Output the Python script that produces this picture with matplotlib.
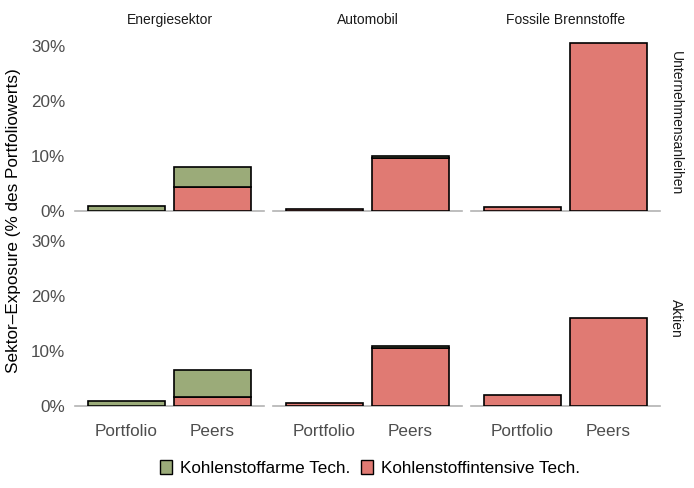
import matplotlib
matplotlib.use("Agg")
import matplotlib.pyplot as plt
from matplotlib.patches import Patch
from matplotlib.ticker import FuncFormatter

plt.rcParams['font.family'] = ['Liberation Sans', 'DejaVu Sans']

sectors = ["Energiesektor", "Automobil", "Fossile Brennstoffe"]
asset_types = ["Unternehmensanleihen", "Aktien"]
groups = ["Portfolio", "Peers"]
tech_labels = ["Kohlenstoffarme Tech.", "Kohlenstoffintensive Tech."]

# values in % of portfolio value, [sector][Portfolio, Peers]
high_carbon_bonds = [[0.0, 4.4], [0.3, 9.7], [0.7, 30.5]]
low_carbon_bonds = [[0.9, 3.6], [0.0, 0.3], [0.0, 0.0]]
high_carbon_equity = [[0.0, 1.7], [0.5, 10.5], [2.0, 16.0]]
low_carbon_equity = [[0.9, 4.8], [0.0, 0.4], [0.0, 0.0]]

high_carbon = [high_carbon_bonds, high_carbon_equity]
low_carbon = [low_carbon_bonds, low_carbon_equity]

green = "#9BAB79"
red = "#E07A73"

W, H = 694, 488
fig = plt.figure(figsize=(W / 100, H / 100), dpi=100)

panel_left = [75, 273, 471]
panel_w = 189
panel_top = [35, 230]
panel_h = 176

pct = FuncFormatter(lambda v, _: f"{v:.0f}%")

for r, asset in enumerate(asset_types):
    for c, sector in enumerate(sectors):
        ax = fig.add_axes([panel_left[c] / W, 1 - (panel_top[r] + panel_h) / H,
                           panel_w / W, panel_h / H])
        x = [1, 2]
        red_vals = high_carbon[r][c]
        green_vals = low_carbon[r][c]
        for i in range(2):
            if red_vals[i] > 0:
                ax.bar(x[i], red_vals[i], width=0.9, color=red,
                       edgecolor="black", linewidth=1.2, zorder=3)
            if green_vals[i] > 0:
                ax.bar(x[i], green_vals[i], bottom=red_vals[i], width=0.9,
                       color=green, edgecolor="black", linewidth=1.2, zorder=3)
        ax.set_xlim(0.4, 2.6)
        ax.set_ylim(0, 32)
        ax.set_yticks([0, 10, 20, 30])
        ax.yaxis.set_major_formatter(pct)
        ax.set_xticks(x)
        for s in ["top", "right", "left"]:
            ax.spines[s].set_visible(False)
        ax.spines["bottom"].set_color("#B3B3B3")
        ax.spines["bottom"].set_linewidth(1.2)
        ax.spines["bottom"].set_zorder(2)
        ax.tick_params(length=0, labelsize=12.3, labelcolor="#4D4D4D")
        ax.tick_params(axis="y", pad=7)
        ax.tick_params(axis="x", pad=13)
        if r == 1:
            ax.set_xticklabels(groups)
        else:
            ax.set_xticklabels([])
        if c != 0:
            ax.set_yticklabels([])
        if r == 0:
            ax.set_title(sector, fontsize=10, color="#1A1A1A", pad=8)
        if c == 2:
            ax.text(1.085, 0.5, asset, transform=ax.transAxes, rotation=-90,
                    ha="center", va="center", fontsize=10, color="#1A1A1A")

fig.text(14 / W, 1 - 221 / H, "Sektor–Exposure (% des Portfoliowerts)",
         rotation=90, ha="center", va="center", fontsize=12.3)

handles = [Patch(facecolor=green, edgecolor="black", linewidth=1.0),
           Patch(facecolor=red, edgecolor="black", linewidth=1.0)]
fig.legend(handles, tech_labels, loc="center", bbox_to_anchor=(370 / W, 1 - 468 / H),
           ncol=2, frameon=False, fontsize=12.3, handlelength=0.7,
           handleheight=0.9, handletextpad=0.5, columnspacing=0.6)

fig.savefig("out.png", dpi=100)
